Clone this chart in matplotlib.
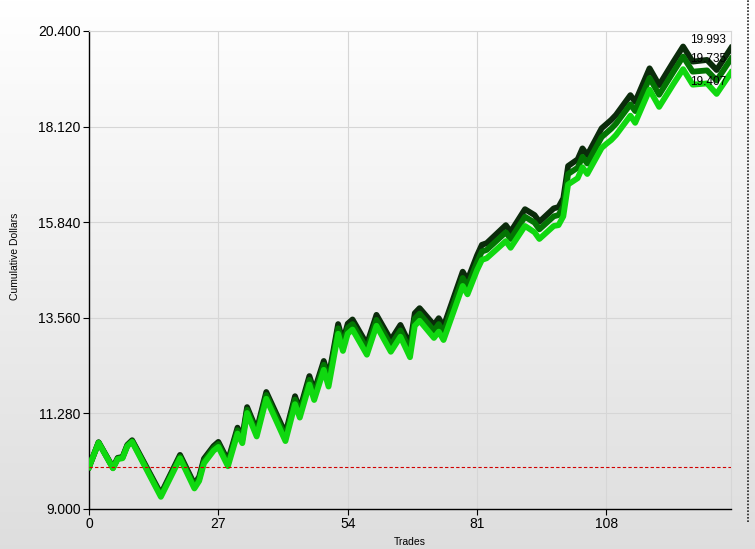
import numpy as np
import matplotlib.pyplot as plt
from matplotlib.lines import Line2D

plt.rcParams['font.family'] = ['Liberation Sans', 'DejaVu Sans']

# trade numbers where the equity curves change direction
trades = [0, 2, 5, 6, 7, 8, 9, 15, 19, 22, 23, 24, 25, 26, 27, 29, 31, 32, 33, 35,
          37, 41, 43, 44, 46, 47, 49, 50, 52, 53, 54, 55, 58, 60, 63, 65, 67, 68, 69, 72,
          73, 74, 78, 79, 81, 82, 83, 87, 88, 91, 93, 94, 97, 98, 99, 100, 102, 103, 104, 107,
          108, 109, 110, 113, 114, 117, 119, 122, 124, 126, 129, 131, 134]

# cumulative dollars for three curves (dark / mid / bright green)
dark = [10.00, 10.59, 9.99, 10.22, 10.24, 10.53, 10.64, 9.36, 10.29, 9.59,
        9.77, 10.20, 10.35, 10.50, 10.60, 10.15, 10.94, 10.71, 11.43, 10.88,
        11.79, 10.80, 11.69, 11.37, 12.17, 11.81, 12.53, 12.14, 13.41, 13.00,
        13.42, 13.52, 12.93, 13.63, 13.03, 13.39, 12.91, 13.67, 13.79, 13.39,
        13.55, 13.35, 14.66, 14.46, 15.05, 15.30, 15.34, 15.77, 15.61, 16.15,
        16.01, 15.85, 16.17, 16.20, 16.41, 17.18, 17.34, 17.60, 17.44, 18.08,
        18.18, 18.28, 18.40, 18.87, 18.71, 19.51, 19.11, 19.67, 20.03, 19.67,
        19.71, 19.47, 19.993]
mid = [10.00, 10.59, 9.98, 10.21, 10.23, 10.51, 10.62, 9.33, 10.25, 9.55,
       9.73, 10.15, 10.30, 10.45, 10.55, 10.09, 10.88, 10.65, 11.37, 10.81,
       11.72, 10.72, 11.61, 11.29, 12.08, 11.72, 12.44, 12.04, 13.31, 12.90,
       13.32, 13.41, 12.82, 13.51, 12.91, 13.26, 12.78, 13.54, 13.66, 13.25,
       13.41, 13.21, 14.51, 14.31, 14.89, 15.14, 15.18, 15.60, 15.44, 15.97,
       15.83, 15.67, 15.98, 16.01, 16.22, 16.99, 17.14, 17.40, 17.24, 17.87,
       17.97, 18.07, 18.19, 18.65, 18.49, 19.28, 18.88, 19.43, 19.79, 19.43,
       19.46, 19.22, 19.735]
bright = [10.00, 10.58, 9.97, 10.19, 10.21, 10.50, 10.60, 9.29, 10.21, 9.49,
          9.67, 10.09, 10.24, 10.39, 10.48, 10.02, 10.80, 10.57, 11.29, 10.73,
          11.63, 10.62, 11.50, 11.18, 11.97, 11.60, 12.32, 11.92, 13.18, 12.77,
          13.18, 13.28, 12.68, 13.37, 12.75, 13.11, 12.62, 13.37, 13.49, 13.08,
          13.23, 13.03, 14.32, 14.12, 14.70, 14.94, 14.98, 15.39, 15.23, 15.75,
          15.60, 15.44, 15.75, 15.77, 15.98, 16.74, 16.89, 17.15, 16.99, 17.61,
          17.71, 17.80, 17.92, 18.38, 18.21, 19.00, 18.59, 19.14, 19.49, 19.12,
          19.15, 18.90, 19.407]

start_value = 10.0
y_ticks = [9.0, 11.28, 13.56, 15.84, 18.12, 20.4]
x_ticks = [0, 27, 54, 81, 108]

fig = plt.figure(figsize=(7.55, 5.49), dpi=100)

# grey gradient background
bg = fig.add_axes([0, 0, 1, 1], zorder=-10)
grad = np.linspace(1.0, 0.87, 256).reshape(-1, 1)
bg.imshow(np.dstack([grad, grad, grad]), aspect='auto', extent=[0, 1, 0, 1])
bg.axis('off')

ax = fig.add_axes([89 / 755, 1 - 509 / 549, (731 - 89) / 755, (509 - 31) / 549])
ax.set_facecolor('none')

ax.plot(trades, dark, color='#0b2b0b', lw=4.2, solid_joinstyle='round', zorder=3)
ax.plot(trades, mid, color='#037503', lw=4.2, solid_joinstyle='round', zorder=4)
ax.plot(trades, bright, color='#10d810', lw=4.2, solid_joinstyle='round', zorder=5)
ax.axhline(start_value, color='#d00000', lw=0.8, ls=(0, (3, 2)), zorder=6)

# end value labels
ax.text(125.5, 20.19, f'{dark[-1]:.3f}', fontsize=8.5, va='center', zorder=7)
ax.text(125.5, 19.73, f'{mid[-1]:.3f}', fontsize=8.5, va='center', zorder=7)
ax.text(125.5, 19.18, f'{bright[-1]:.3f}', fontsize=8.5, va='center', zorder=7)

ax.set_xlim(0, 134)
ax.set_ylim(9.0, 20.4)
ax.set_xticks(x_ticks)
ax.set_yticks(y_ticks)
ax.set_yticklabels([f'{v:.3f}' for v in y_ticks])
ax.grid(True, color='#d6d6d6', lw=0.8)
ax.set_axisbelow(True)
ax.tick_params(labelsize=10, length=4, color='black', pad=2)
for s in ['top', 'right']:
    ax.spines[s].set_color('#d6d6d6')
    ax.spines[s].set_linewidth(0.8)
for s in ['left', 'bottom']:
    ax.spines[s].set_color('black')
    ax.spines[s].set_linewidth(1.0)

fig.text(15 / 755, 1 - 256 / 549, 'Cumulative Dollars', rotation=90,
         fontsize=7.5, ha='center', va='center')
fig.text(410 / 755, 2 / 549, 'Trades', fontsize=7.5, ha='center', va='bottom')

fig.add_artist(Line2D([748 / 755, 748 / 755], [0.05, 1], transform=fig.transFigure,
                      color='#222222', lw=1.2, ls=(0, (1, 1))))

fig.savefig('out.png', dpi=100)
